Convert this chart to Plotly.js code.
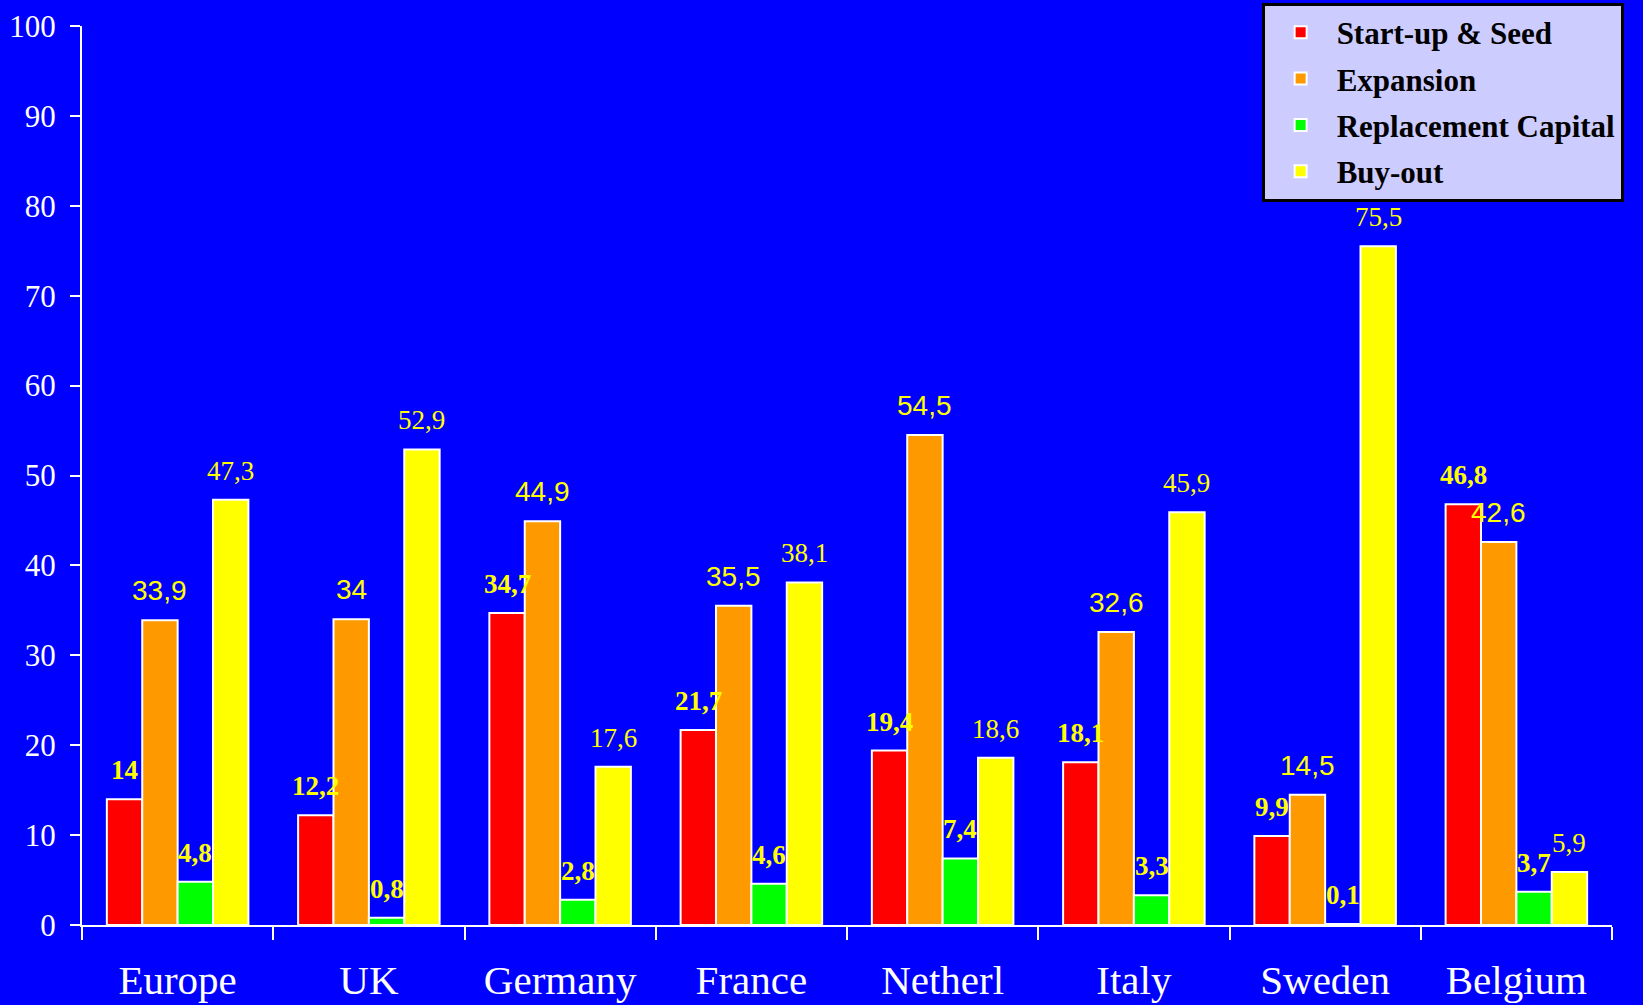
<!DOCTYPE html>
<html>
<head>
<meta charset="utf-8">
<script src="https://cdn.plot.ly/plotly-3.0.1.min.js"></script>
<style>
  html, body { margin: 0; padding: 0; background: #0000ff; }
  #chart { width: 1643px; height: 1005px; }
</style>
</head>
<body>
<div id="chart"></div>
<script>
// Investment split by stage, per country (%)
const categories = ['Europe', 'UK', 'Germany', 'France', 'Netherl', 'Italy', 'Sweden', 'Belgium'];
const startupSeed = [14, 12.2, 34.7, 21.7, 19.4, 18.1, 9.9, 46.8];
const expansion = [33.9, 34, 44.9, 35.5, 54.5, 32.6, 14.5, 42.6];
const replacementCapital = [4.8, 0.8, 2.8, 4.6, 7.4, 3.3, 0.1, 3.7];
const buyOut = [47.3, 52.9, 17.6, 38.1, 18.6, 45.9, 75.5, 5.9];
const seriesNames = ['Start-up & Seed', 'Expansion', 'Replacement Capital', 'Buy-out'];
const yTickValues = [0, 10, 20, 30, 40, 50, 60, 70, 80, 90, 100];

const seriesValues = [startupSeed, expansion, replacementCapital, buyOut];
const seriesColors = ['#ff0000', '#ff9900', '#00ff00', '#ffff00'];

// Each series has its own value-label typeface
const serif = 'Liberation Serif, Times New Roman, serif';
const sans = 'Liberation Sans, Arial, sans-serif';
const labelFonts = [
  { family: serif, size: 27, color: '#ffff00', weight: 'bold' },
  { family: sans, size: 28, color: '#ffff00' },
  { family: serif, size: 27, color: '#ffff00', weight: 'bold' },
  { family: serif, size: 27, color: '#ffff00' }
];

const bargap = 0.26;
const slot = (1 - bargap) / seriesValues.length;

const traces = seriesValues.map((vals, j) => ({
  type: 'bar',
  name: seriesNames[j],
  legendgroup: 'g' + j,
  x: categories,
  y: vals,
  marker: { color: seriesColors[j], line: { color: '#ffffff', width: 2 } },
  hoverinfo: 'x+y+name'
}));

// Value labels above each bar, decimal comma
const fmt = v => String(v).replace('.', ',');
const annotations = [];
seriesValues.forEach((vals, j) => {
  vals.forEach((v, i) => {
    annotations.push({
      x: i + (j - (seriesValues.length - 1) / 2) * slot,
      y: v,
      xref: 'x', yref: 'y',
      text: fmt(v),
      showarrow: false,
      xanchor: 'center',
      yanchor: 'bottom',
      yshift: 12,
      font: labelFonts[j]
    });
  });
});

const layout = {
  width: 1643,
  height: 1005,
  paper_bgcolor: '#0000ff',
  plot_bgcolor: '#0000ff',
  margin: { l: 82, r: 31, t: 26, b: 80, autoexpand: false },
  barmode: 'group',
  bargap: bargap,
  bargroupgap: 0,
  showlegend: true,
  legend: {
    x: 0.771, y: 1.026, xanchor: 'left', yanchor: 'top',
    bgcolor: '#ccccff',
    bordercolor: '#000000',
    borderwidth: 3,
    font: { family: serif, size: 31, color: '#000000', weight: 'bold' },
    traceorder: 'grouped',
    tracegroupgap: 3,
    itemwidth: 62
  },
  xaxis: {
    type: 'category',
    showline: true, linecolor: '#ffffff', linewidth: 2,
    ticks: 'outside', tickson: 'boundaries', ticklen: 13, tickwidth: 2, tickcolor: '#ffffff',
    showgrid: false, zeroline: false,
    tickfont: { family: serif, size: 41, color: '#ffffff' },
    ticklabelstandoff: 18
  },
  yaxis: {
    range: [0, 100],
    tickvals: yTickValues,
    ticktext: yTickValues.map(String),
    showline: true, linecolor: '#ffffff', linewidth: 2,
    ticks: 'outside', ticklen: 10, tickwidth: 2, tickcolor: '#ffffff',
    showgrid: false, zeroline: false,
    tickfont: { family: serif, size: 31, color: '#ffffff' },
    ticklabelstandoff: 8
  },
  annotations: annotations
};

Plotly.newPlot('chart', traces, layout, { displayModeBar: false, staticPlot: true });
</script>
</body>
</html>
